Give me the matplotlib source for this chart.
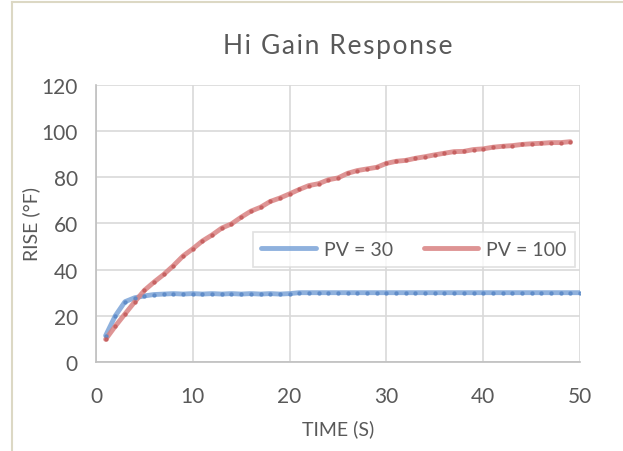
import matplotlib.pyplot as plt
from matplotlib.lines import Line2D

# Dados
time_pv30 = list(range(1, 51))
rise_pv30 = [11.4, 20.0, 26.1, 27.8, 28.6, 29.2, 29.4, 29.6, 29.4, 29.6,
             29.4, 29.6, 29.4, 29.6, 29.4, 29.6, 29.4, 29.6, 29.4, 29.6,
             30.0, 30.0, 30.0, 30.0, 30.0, 30.0, 30.0, 30.0, 30.0, 30.0,
             30.0, 30.0, 30.0, 30.0, 30.0, 30.0, 30.0, 30.0, 30.0, 30.0,
             30.0, 30.0, 30.0, 30.0, 30.0, 30.0, 30.0, 30.0, 30.0, 30.0]

time_pv100 = list(range(1, 50))
rise_pv100 = [9.8, 15.5, 20.8, 26.0, 31.0, 34.6, 37.9, 41.7, 45.9, 49.0,
              52.4, 55.0, 58.0, 59.8, 62.7, 65.3, 67.0, 69.5, 71.0, 72.8,
              74.7, 76.4, 77.2, 78.9, 79.7, 81.7, 82.9, 83.6, 84.3, 86.0,
              86.9, 87.3, 88.2, 88.9, 89.7, 90.4, 91.1, 91.2, 92.0, 92.3,
              93.0, 93.4, 93.7, 94.2, 94.5, 94.7, 95.0, 95.0, 95.4]

x_ticks = [0, 10, 20, 30, 40, 50]
y_ticks = [0, 20, 40, 60, 80, 100, 120]

TEXT = '#595959'
BLUE = '#7ba4d8'
BLUE_DOT = '#5a88c6'
RED = '#d98282'
RED_DOT = '#c45c5c'

plt.rcParams['font.family'] = ['Lato', 'DejaVu Sans']

fig = plt.figure(figsize=(6.23, 4.52), dpi=100)
ax = fig.add_axes([0.154, 0.197, 0.777, 0.613])

# Borda bege do gráfico (canto superior esquerdo)
fig.add_artist(Line2D([12 / 623, 12 / 623], [0, 1 - 3 / 452],
                      transform=fig.transFigure, color='#dcd8c4', lw=1.5))
fig.add_artist(Line2D([12 / 623, 1], [1 - 3 / 452, 1 - 3 / 452],
                      transform=fig.transFigure, color='#dcd8c4', lw=1.5))

ax.plot(time_pv30, rise_pv30, color=BLUE, lw=3.5, alpha=0.85,
        solid_capstyle='round', label='PV = 30', zorder=3)
ax.plot(time_pv30, rise_pv30, ls='none', marker='o', ms=2.2,
        color=BLUE_DOT, alpha=0.8, zorder=4)
ax.plot(time_pv100, rise_pv100, color=RED, lw=3.5, alpha=0.85,
        solid_capstyle='round', label='PV = 100', zorder=3)
ax.plot(time_pv100, rise_pv100, ls='none', marker='o', ms=2.2,
        color=RED_DOT, alpha=0.8, zorder=4)

ax.set_xlim(0, 50)
ax.set_ylim(0, 120)
ax.set_xticks(x_ticks)
ax.set_yticks(y_ticks)
ax.grid(True, color='#d9d9d9', lw=1.2, zorder=0)
ax.set_axisbelow(True)
ax.tick_params(length=0, labelsize=15, colors=TEXT)
ax.tick_params(axis='x', pad=17)
ax.tick_params(axis='y', pad=13)

for s in ['top', 'right']:
    ax.spines[s].set_visible(False)
for s in ['left', 'bottom']:
    ax.spines[s].set_color('#bfbfbf')
    ax.spines[s].set_linewidth(1.2)

# Título com espaçamento entre letras
title = '\u200a'.join('Hi Gain Response')
ax.set_title(title, fontsize=19, color=TEXT, pad=23)
ax.set_xlabel('TIME (S)', fontsize=14, color=TEXT, labelpad=10)
ax.set_ylabel('RISE (°F)', fontsize=14, color=TEXT, labelpad=1)

leg = ax.legend(loc='upper right', bbox_to_anchor=(0.99, 0.469), ncol=2,
                fontsize=14, frameon=True, fancybox=False, handlelength=2.8,
                handletextpad=0.4, columnspacing=1.6, borderpad=0.45,
                borderaxespad=0)
leg.get_frame().set_edgecolor('#d9d9d9')
leg.get_frame().set_linewidth(1.2)
for t in leg.get_texts():
    t.set_color(TEXT)

fig.savefig('out.png', dpi=100)
